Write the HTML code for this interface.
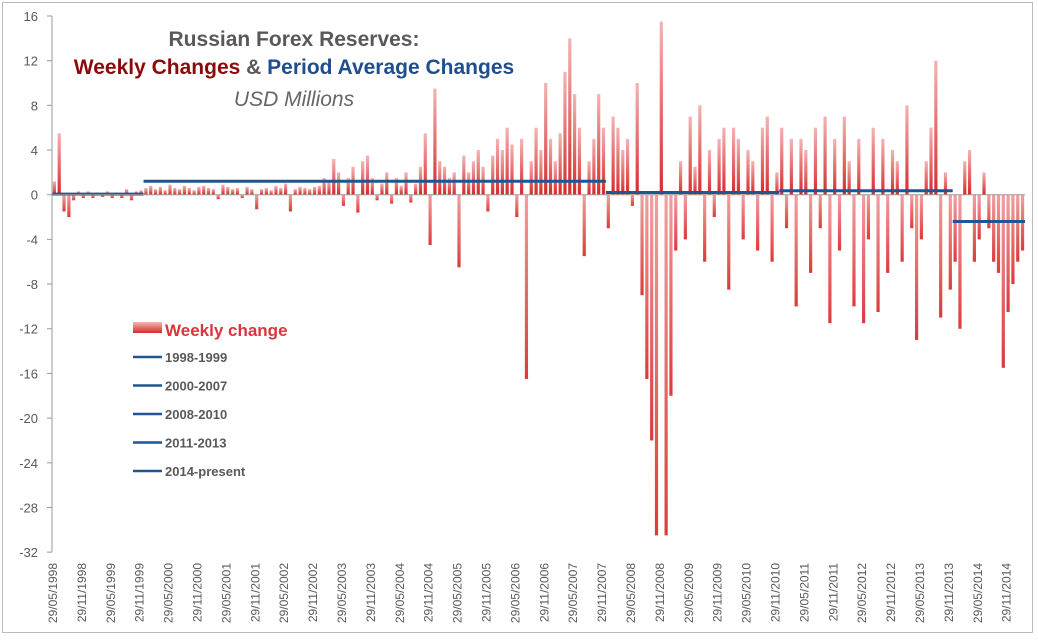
<!DOCTYPE html>
<html><head><meta charset="utf-8"><style>
body{margin:0;background:#fff;font-family:"Liberation Sans",sans-serif}
svg text{font-family:"Liberation Sans",sans-serif}
</style></head><body>
<svg id="c" width="1038" height="638">
<defs>
<linearGradient id="gp" x1="0" y1="1" x2="0" y2="0"><stop offset="0" stop-color="#d62a2a"/><stop offset="1" stop-color="#f4b4b4"/></linearGradient>
<linearGradient id="gn" x1="0" y1="0" x2="0" y2="1"><stop offset="0" stop-color="#f0a0a0"/><stop offset="1" stop-color="#dd3a3a"/></linearGradient>
</defs>
<rect x="2.5" y="2.5" width="1030" height="630" fill="none" stroke="#bbb"/>
<g id="bars"></g><g id="avg"></g><g id="axes"></g>
<g font-weight="bold" font-size="21" text-anchor="middle">
<text x="294" y="46" fill="#595959">Russian Forex Reserves:</text>
<text x="294" y="74"><tspan fill="#8b0a0a">Weekly Changes</tspan><tspan fill="#595959"> &amp; </tspan><tspan fill="#1f4e8c">Period Average Changes</tspan></text>
<text x="294" y="106" font-weight="normal" font-style="italic" fill="#666">USD Millions</text>
</g>
<g>
<rect x="133" y="322" width="29" height="11" fill="url(#gp)"/>
<text x="165" y="336" font-size="17" font-weight="bold" fill="#d9363e">Weekly change</text>
</g>
<g id="leg2"></g>
</svg>
<script>
const yTicks=[16,12,8,4,0,-4,-8,-12,-16,-20,-24,-28,-32];
const xLabels=["29/05/1998","29/11/1998","29/05/1999","29/11/1999","29/05/2000","29/11/2000","29/05/2001","29/11/2001","29/05/2002","29/11/2002","29/05/2003","29/11/2003","29/05/2004","29/11/2004","29/05/2005","29/11/2005","29/05/2006","29/11/2006","29/05/2007","29/11/2007","29/05/2008","29/11/2008","29/05/2009","29/11/2009","29/05/2010","29/11/2010","29/05/2011","29/11/2011","29/05/2012","29/11/2012","29/05/2013","29/11/2013","29/05/2014","29/11/2014"];
const monthly=[
1.2,5.5,-1.5,-2,-0.5,0.3,-0.3,
0.3,-0.3,0.2,-0.2,0.3,-0.3,0.2,-0.3,0.5,-0.5,0.3,0.4,
0.6,0.8,0.5,0.7,0.4,0.9,0.6,0.5,0.8,0.6,0.4,0.7,
0.8,0.6,0.5,-0.4,0.9,0.7,0.5,0.6,-0.3,0.7,0.5,-1.3,
0.5,0.6,0.4,0.8,0.6,1.0,-1.5,0.5,0.7,0.6,0.5,0.7,
0.8,1.5,1.2,3.2,2.0,-1.0,1.5,2.5,-1.6,3.0,3.5,1.5,
-0.5,1.0,2.0,-0.8,1.5,0.8,2.0,-0.7,1.0,2.5,5.5,-4.5,
9.5,3.0,2.5,1.5,2.0,-6.5,3.5,2.0,3.0,4.0,2.5,-1.5,
3.5,5.0,4.0,6.0,4.5,-2.0,5.0,-16.5,3.0,6.0,4.0,10.0,
5.0,3.0,5.5,11.0,14.0,9.0,6.0,-5.5,3.0,5.0,9.0,6.0,
-3,7,6,4,5,-1,10,-9,-16.5,-22,-30.5,15.5,
-30.5,-18,-5,3,-4,7,2.5,8,-6,4,-2,5,
6,-8.5,6,5,-4,4,3,-5,6,7,-6,2,
6,-3,5,-10,5,4,-7,6,-3,7,-11.5,5,
-5,7,3,-10,5,-11.5,-4,6,-10.5,5,-7,4,
3,-6,8,-3,-13,-4,3,6,12,-11,2,-8.5,
-6,-12,3,4,-6,-4,2,-3,-6,-7,-15.5,-10.5,
-8,-6,-5];
const periodNames=["1998-1999","2000-2007","2008-2010","2011-2013","2014-present"];
const periodAvg=[0.05,1.2,0.2,0.35,-2.4];
const periodStart=[0,19,115,151,187]; // month index (0 = Jun 1998)
const periodEnd=[19,115,151,187,202];

const NS="http://www.w3.org/2000/svg";
const x0=52, pxMonth=57.8/12;
const X=m=>x0+m*pxMonth;
const Y=v=>194.7-v*11.17;
function mk(tag,attrs,parent){const e=document.createElementNS(NS,tag);for(const k in attrs)e.setAttribute(k,attrs[k]);parent.appendChild(e);return e;}
const bars=document.getElementById('bars'),avg=document.getElementById('avg'),axes=document.getElementById('axes'),leg=document.getElementById('leg2');

monthly.forEach((v,i)=>{
 const cx=X(i+0.5);
 const y=Math.min(Y(v),Y(0)), h=Math.max(Math.abs(Y(v)-Y(0)),0.8);
 const r=mk('rect',{x:cx-1.6,y:y,width:3.2,height:h,fill:v>=0?'url(#gp)':'url(#gn)'},bars);
 
 
});
periodAvg.forEach((v,i)=>{
 const l=mk('line',{x1:X(periodStart[i]),x2:X(periodEnd[i]),y1:Y(v),y2:Y(v),stroke:'#1f5592','stroke-width':3},avg);
 
 
 const ly=357+i*28.5;
 const ll=mk('line',{x1:133,x2:162,y1:ly,y2:ly,stroke:'#1f5592','stroke-width':2.5},leg);
 
 
 const lt=mk('text',{x:165,y:ly+5,'font-size':13,'font-weight':'bold',fill:'#595959'},leg);
 lt.textContent=periodNames[i];
 
 
});
const zl=mk('line',{x1:x0,x2:1025,y1:Y(0),y2:Y(0),stroke:'#999','stroke-width':1},axes);


const ya=mk('line',{x1:x0,x2:x0,y1:Y(16),y2:Y(-32),stroke:'#999','stroke-width':1},axes);


yTicks.forEach(t=>{
 const tk=mk('line',{x1:x0-5,x2:x0,y1:Y(t),y2:Y(t),stroke:'#999'},axes);
 
 
 const tx=mk('text',{x:38,y:Y(t)+5,'font-size':13,fill:'#595959','text-anchor':'end'},axes);
 tx.textContent=t;
 
 
});
xLabels.forEach((s,i)=>{
 const xx=X(i*6)+5;
 const tx=mk('text',{x:0,y:0,'font-size':12,fill:'#595959','text-anchor':'end',transform:`translate(${xx},563) rotate(-90)`},axes);
 tx.textContent=s;
 
 
});
</script>
</body></html>
